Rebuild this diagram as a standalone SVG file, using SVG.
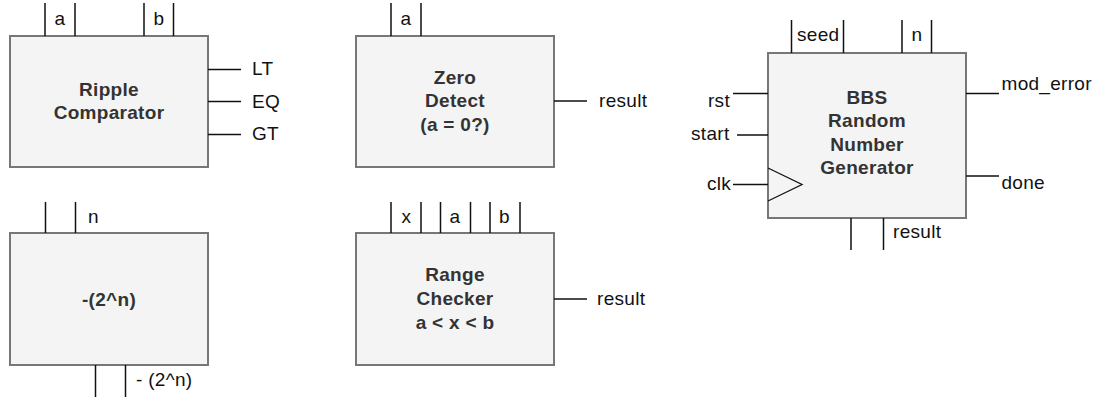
<svg xmlns="http://www.w3.org/2000/svg" width="1113" height="400" viewBox="0 0 1113 400">
  <style>
    .box { fill: #f4f4f4; stroke: #777777; stroke-width: 2; }
    .wire { stroke: #111111; stroke-width: 1.5; fill: none; }
    .clk { stroke: #111111; stroke-width: 1.3; fill: none; }
    .title { font-family: "Liberation Sans", Arial, sans-serif; font-size: 19px; font-weight: bold; fill: #333333; text-anchor: middle; letter-spacing: 0.3px; }
    .lbl { font-family: "Liberation Sans", Arial, sans-serif; font-size: 19px; fill: #111111; letter-spacing: 0.3px; }
    .mid { text-anchor: middle; }
    .end { text-anchor: end; }
  </style>
  <rect width="1113" height="400" fill="#ffffff"/>

  <!-- block bodies -->
  <g id="ripple-comparator">
    <rect class="box" x="10" y="36" width="198" height="131"/>
    <text class="title" x="109" y="95.5">Ripple</text>
    <text class="title" x="109" y="119">Comparator</text>
  </g>

  <g id="zero-detect">
    <rect class="box" x="356" y="36" width="198" height="131"/>
    <text class="title" x="455" y="83.5">Zero</text>
    <text class="title" x="455" y="107">Detect</text>
    <text class="title" x="455" y="130.5">(a = 0?)</text>
  </g>

  <g id="bbs-rng">
    <rect class="box" x="768" y="53" width="198" height="165"/>
    <polyline class="clk" points="768,168 802,184.5 768,201"/>
    <text class="title" x="867" y="103.5">BBS</text>
    <text class="title" x="867" y="127">Random</text>
    <text class="title" x="867" y="150.5">Number</text>
    <text class="title" x="867" y="174">Generator</text>
  </g>

  <g id="neg-pow2">
    <rect class="box" x="10" y="233" width="198" height="132"/>
    <text class="title" x="109" y="306">-(2^n)</text>
  </g>

  <g id="range-checker">
    <rect class="box" x="356" y="233" width="198" height="132"/>
    <text class="title" x="455" y="281">Range</text>
    <text class="title" x="455" y="305">Checker</text>
    <text class="title" x="455" y="328.5">a &lt; x &lt; b</text>
  </g>

  <!-- ports and pins -->
  <g id="connectors">
    <!-- ripple comparator -->
    <path class="wire" d="M45,3V36 M75,3V36 M144,3V36 M173.5,3V36"/>
    <path class="wire" d="M208,69.5H241 M208,101.5H241 M208,134.5H241"/>
    <!-- zero detect -->
    <path class="wire" d="M391,3V36 M421,3V36 M554,101H587"/>
    <!-- bbs -->
    <path class="wire" d="M791.5,20V53 M843.5,20V53 M902,20V53 M931.5,20V53"/>
    <path class="wire" d="M733,93.5H768 M737,135H768 M733,184.5H768"/>
    <path class="wire" d="M966,93.5H999 M966,176H999"/>
    <path class="wire" d="M851,218V250 M883.5,218V250"/>
    <!-- -(2^n) -->
    <path class="wire" d="M45.5,202V233 M75.5,202V233 M95.5,365V397 M125.5,365V397"/>
    <!-- range checker -->
    <path class="wire" d="M391,202V233 M421,202V233 M440.5,202V233 M470.5,202V233 M490,202V233 M520,202V233"/>
    <path class="wire" d="M554,299H587"/>
  </g>

  <!-- pin labels -->
  <g id="labels">
    <text class="lbl mid" x="60" y="25">a</text>
    <text class="lbl mid" x="159" y="25">b</text>
    <text class="lbl" x="252" y="74.5">LT</text>
    <text class="lbl" x="252" y="107.5">EQ</text>
    <text class="lbl" x="252" y="140">GT</text>

    <text class="lbl mid" x="406" y="24.5">a</text>
    <text class="lbl" x="599" y="107">result</text>

    <text class="lbl" x="797" y="41">seed</text>
    <text class="lbl mid" x="917" y="41">n</text>
    <text class="lbl end" x="730" y="106.5">rst</text>
    <text class="lbl end" x="729.5" y="140">start</text>
    <text class="lbl end" x="731" y="189.5">clk</text>
    <text class="lbl" x="1001.5" y="90">mod_error</text>
    <text class="lbl" x="1001.5" y="188.5">done</text>
    <text class="lbl" x="893" y="238">result</text>

    <text class="lbl" x="88" y="222.5">n</text>
    <text class="lbl" x="136" y="386">- (2^n)</text>

    <text class="lbl mid" x="406.5" y="222.5">x</text>
    <text class="lbl mid" x="455" y="222.5">a</text>
    <text class="lbl mid" x="504.5" y="222.5">b</text>
    <text class="lbl" x="597" y="305">result</text>
  </g>
</svg>
